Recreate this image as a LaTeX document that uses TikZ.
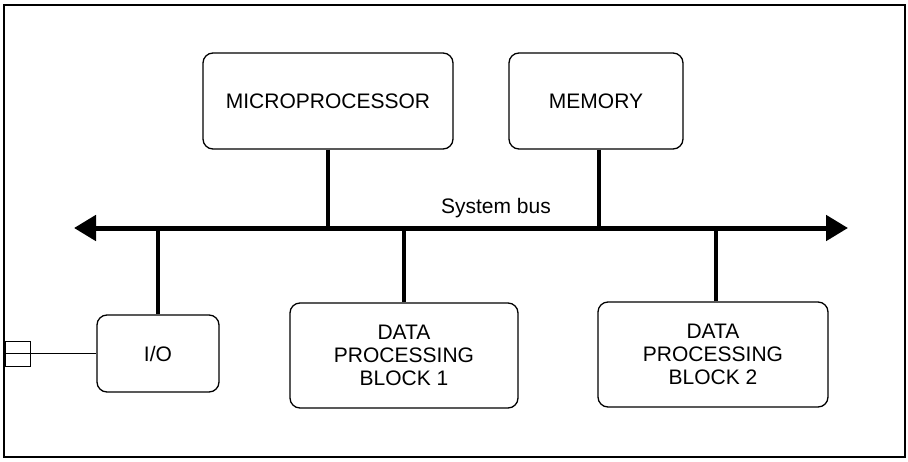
\documentclass[tikz,border=0pt]{standalone}
\usepackage{fontspec}
\setmainfont{Liberation Sans}
\usetikzlibrary{arrows.meta}

\tikzset{
  unit/.style={draw, rounded corners=10pt, line width=1.3pt, inner sep=0pt,
    align=center, font=\fontsize{21}{23}\selectfont},
  busline/.style={line width=5pt, {Triangle[length=22pt,width=25pt]}-{Triangle[length=22pt,width=25pt]}},
  tap/.style={line width=4.2pt},
  wire/.style={line width=0.9pt},
  frameline/.style={line width=1.5pt}
}

\begin{document}
\begin{tikzpicture}[x=1pt, y=-1pt]
  \useasboundingbox (0,0) rectangle (908,461);
  \draw[frameline] (4,5) rectangle (905,457);

  % functional units
  \node[unit, minimum width=250pt, minimum height=96pt] (mp)  at (328,101) {MICROPROCESSOR};
  \node[unit, minimum width=174pt, minimum height=96pt] (mem) at (596,101) {MEMORY};
  \node[unit, minimum width=122pt, minimum height=77pt] (io)  at (158,353.5) {I/O};
  \node[unit, minimum width=228pt, minimum height=105pt] (dp1) at (404,355.5) {DATA\\PROCESSING\\BLOCK 1};
  \node[unit, minimum width=230pt, minimum height=105pt] (dp2) at (713,354.5) {DATA\\PROCESSING\\BLOCK 2};

  % system bus
  \coordinate (busL) at (74,228);
  \coordinate (busR) at (848,228);
  \draw[busline] (busL) -- (busR);
  \node[font=\fontsize{21}{23}\selectfont, anchor=base] (buslabel) at (496,213) {System bus};

  % bus taps
  \draw[tap] (mp.south)  -- (mp.south |- busL);
  \draw[tap] (mem.south -| 599,0) -- (599,228);
  \draw[tap] (io.north)  -- (io.north |- busL);
  \draw[tap] (dp1.north) -- (dp1.north |- busL);
  \draw[tap] (dp2.north -| 716,0) -- (716,228);

  % external port of the I/O unit
  \node[draw, line width=0.9pt, minimum width=25pt, minimum height=25pt, inner sep=0pt] (port) at (17.5,354) {};
  \coordinate (pin) at (5,353.5);
  \draw[wire] (pin) -- (pin -| io.west);
\end{tikzpicture}
\end{document}
